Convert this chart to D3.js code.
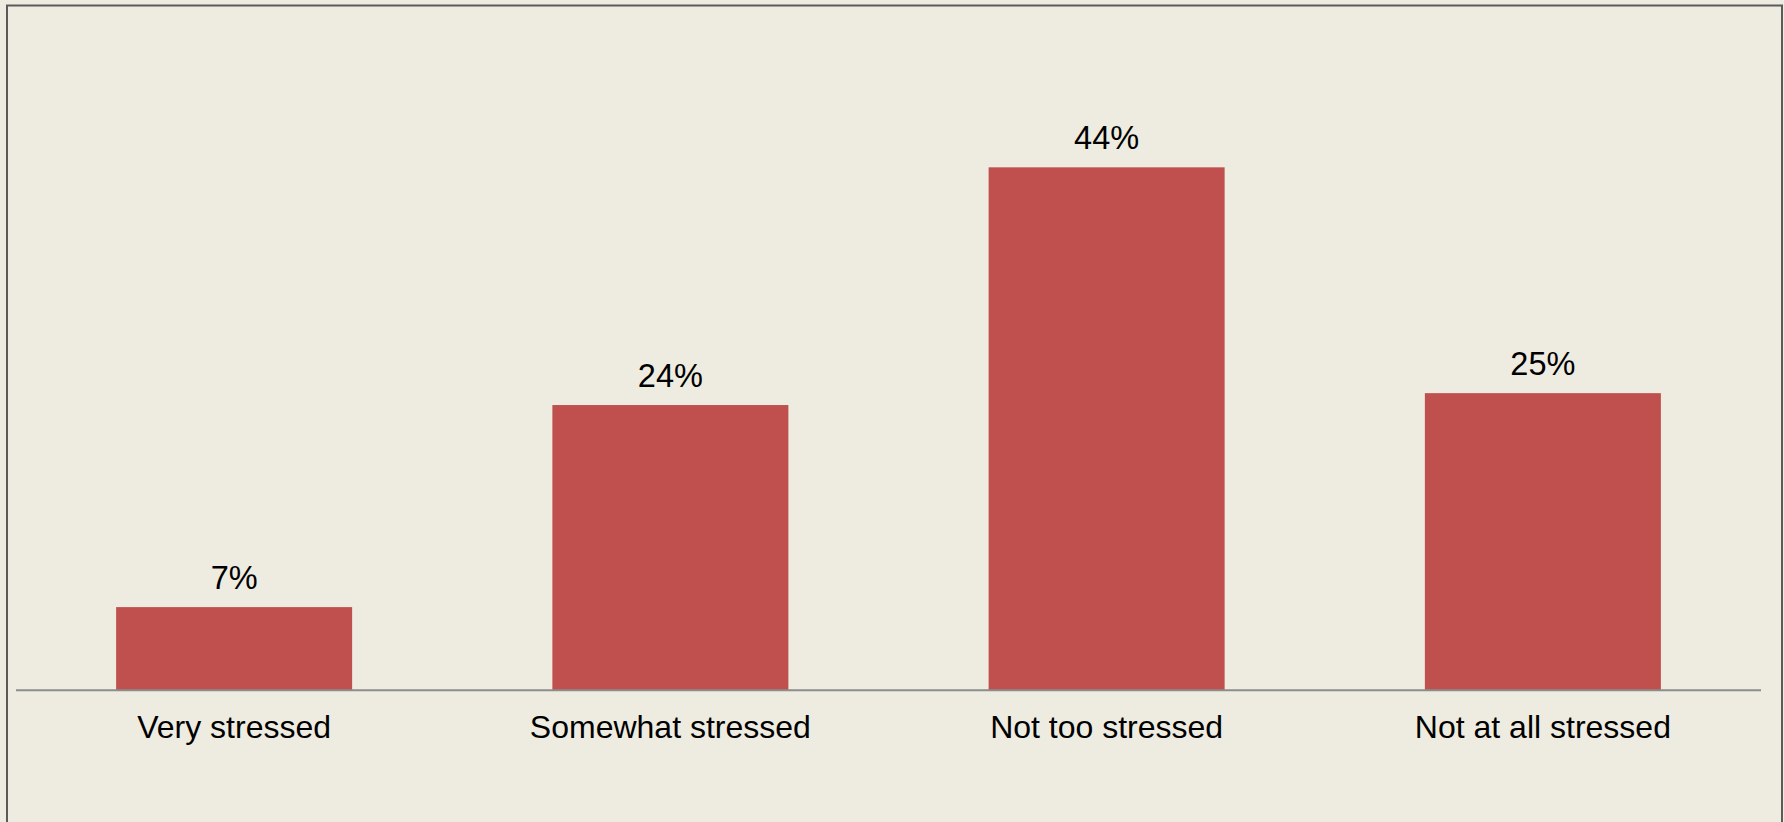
<!DOCTYPE html>
<html><head><meta charset="utf-8">
<script src="https://cdn.jsdelivr.net/npm/d3@7"></script>
<style>html,body{margin:0;padding:0;background:#EEECE1;}svg{display:block;}</style>
</head><body>
<svg id="c" width="1784" height="822"></svg>
<script>
const categories = ["Very stressed", "Somewhat stressed", "Not too stressed", "Not at all stressed"];
const values = [7, 24, 44, 25];
const valueLabels = ["7%", "24%", "44%", "25%"];

const svg = d3.select("#c");
svg.append("rect").attr("x",0).attr("y",0).attr("width",1784).attr("height",822).attr("fill","#EEECE1");
svg.append("rect").attr("x",7).attr("y",5.5).attr("width",1775).attr("height",830)
  .attr("fill","#EEECE1").attr("stroke","#5a5a5a").attr("stroke-width",2);

const x = d3.scaleBand().domain(categories).range([16, 1761]).paddingInner(0.459).paddingOuter(0.2295);
const y = d3.scaleLinear().domain([0, 50]).range([690.3, 96]);

svg.selectAll("rect.bar").data(values).enter().append("rect").attr("class","bar")
  .attr("x",(d,i)=>x(categories[i])).attr("width",x.bandwidth())
  .attr("y",d=>y(d)).attr("height",d=>y(0)-y(d)).attr("fill","#C0504D");

svg.append("line").attr("x1",16).attr("x2",1761).attr("y1",y(0)).attr("y2",y(0))
  .attr("stroke","#8c8c8c").attr("stroke-width",2);

svg.selectAll("text.val").data(values).enter().append("text").attr("class","val")
  .attr("x",(d,i)=>x(categories[i])+x.bandwidth()/2).attr("y",d=>y(d)-18.5)
  .attr("text-anchor","middle").attr("font-family","Liberation Sans, Arial, sans-serif")
  .attr("font-size",32.5).attr("fill","#000").text((d,i)=>valueLabels[i]);

svg.selectAll("text.cat").data(categories).enter().append("text").attr("class","cat")
  .attr("x",d=>x(d)+x.bandwidth()/2).attr("y",y(0)+48)
  .attr("text-anchor","middle").attr("font-family","Liberation Sans, Arial, sans-serif")
  .attr("font-size",32).attr("fill","#000").text(d=>d);
</script>
</body></html>
